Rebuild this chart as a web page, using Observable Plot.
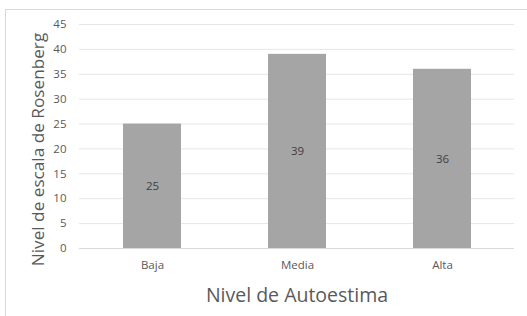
<!DOCTYPE html>
<html><head><meta charset="utf-8">
<script src="https://cdn.jsdelivr.net/npm/d3@7"></script>
<script src="https://cdn.jsdelivr.net/npm/@observablehq/plot@0.6"></script>
<style>
html,body{margin:0;padding:0;background:#fff;}
#wrap{position:relative;width:527px;height:316px;overflow:hidden;}
#border{position:absolute;left:5px;top:9px;right:-2px;bottom:-2px;border-left:1px solid #d9d9d9;border-top:1px solid #d9d9d9;}
#chart{position:absolute;left:0;top:0;}
</style></head>
<body><div id="wrap"><div id="border"></div><div id="chart"></div></div>
<script>
const categories = ["Baja", "Media", "Alta"];
const values = [25, 39, 36];
const yTicks = [0, 5, 10, 15, 20, 25, 30, 35, 40, 45];
const xTitle = "Nivel de Autoestima";
const yTitle = "Nivel de escala de Rosenberg";

const data = categories.map((c, i) => ({cat: c, v: values[i]}));
const font = "Open Sans, Noto Sans, sans-serif";

const chart = Plot.plot({
  width: 527, height: 316,
  marginLeft: 79, marginRight: 13, marginTop: 24, marginBottom: 68,
  style: {fontFamily: font, background: "transparent", overflow: "visible"},
  x: {domain: categories, paddingInner: 0.6, paddingOuter: 0.3},
  y: {domain: [0, 45]},
  marks: [
    Plot.gridY(yTicks.filter(t => t > 0), {stroke: "#e6e6e6", strokeOpacity: 1, strokeWidth: 1}),
    Plot.ruleY([0], {stroke: "#d9d9d9", strokeWidth: 1}),
    Plot.barY(data, {x: "cat", y: "v", fill: "#a5a5a5"}),
    Plot.text(data, {x: "cat", y: d => d.v / 2, text: d => String(d.v), fill: "#404040", fontSize: 11.5}),
    Plot.axisY(yTicks, {tickSize: 0, tickPadding: 13, fontSize: 11.5, fill: "#595959", label: null}),
    Plot.axisX({tickSize: 0, tickPadding: 12, fontSize: 11.5, fill: "#595959", label: null}),
    Plot.text([xTitle], {frameAnchor: "bottom", dy: 47, fontSize: 19.5, fill: "#595959", lineAnchor: "middle"}),
    Plot.text([yTitle], {frameAnchor: "left", dx: -41, dy: 13, rotate: -90, textAnchor: "middle", fontSize: 17.2, fill: "#595959", lineAnchor: "middle"})
  ]
});
document.getElementById("chart").appendChild(chart);
</script></body></html>
